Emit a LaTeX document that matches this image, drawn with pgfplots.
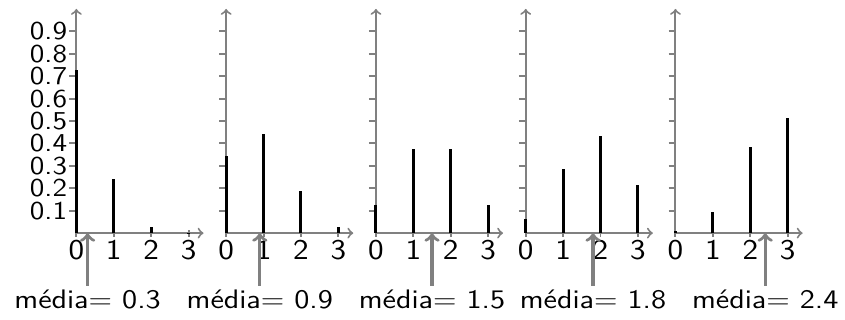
\documentclass[border=0pt]{standalone}
\usepackage{fontspec}
\setsansfont{Latin Modern Sans}[FakeStretch=1.15]
\usepackage{pgfplots}
\pgfplotsset{compat=1.18}
\pgfplotsset{
  panel/.style={
    x=18.85pt, y=113pt,
    xmin=0, xmax=3.4, ymin=0, ymax=1.0,
    axis lines=middle,
    axis line style={gray, line width=1pt, ->},
    xtick={0,1,2,3}, ytick={0.1,0.2,0.3,0.4,0.5,0.6,0.7,0.8,0.9},
    hide obscured x ticks=false, hide obscured y ticks=false,
    tick style={gray, line width=1pt},
    major tick length=3.5pt,
    xtick align=center, ytick align=outside,
    xticklabel style={font=\sffamily\fontsize{14.5}{14.5}\selectfont, black, inner sep=1.5pt},
    yticklabel style={font=\sffamily\fontsize{13}{13}\selectfont, black, inner sep=1pt},
    /pgf/number format/assume math mode=true,
    clip=false,
  },
  noy/.style={yticklabels={}},
}
\begin{document}
\begin{tikzpicture}
\tikzset{meanarrow/.style={gray, line width=1.7pt, ->}, meanlab/.style={font=\sffamily\fontsize{13.5}{13.5}\selectfont, black}}
% p = 0.1
\begin{axis}[panel, at={(0pt,0pt)}]
\addplot[ycomb, black, line width=1.5pt] coordinates {(0,0.729) (1,0.243) (2,0.027) (3,0.001)};
\addplot[meanarrow] coordinates {(0.3,-0.235) (0.3,0)};
\node[meanlab] at (axis cs:0.3,-0.296) {média= 0.3};
\end{axis}
% p = 0.3
\begin{axis}[panel, noy, at={(75.5pt,0pt)}]
\addplot[ycomb, black, line width=1.5pt] coordinates {(0,0.343) (1,0.441) (2,0.189) (3,0.027)};
\addplot[meanarrow] coordinates {(0.9,-0.235) (0.9,0)};
\node[meanlab] at (axis cs:0.9,-0.296) {média= 0.9};
\end{axis}
% p = 0.5
\begin{axis}[panel, noy, at={(151pt,0pt)}]
\addplot[ycomb, black, line width=1.5pt] coordinates {(0,0.125) (1,0.375) (2,0.375) (3,0.125)};
\addplot[meanarrow] coordinates {(1.5,-0.235) (1.5,0)};
\node[meanlab] at (axis cs:1.5,-0.296) {média= 1.5};
\end{axis}
% p = 0.6
\begin{axis}[panel, noy, at={(226.5pt,0pt)}]
\addplot[ycomb, black, line width=1.5pt] coordinates {(0,0.064) (1,0.288) (2,0.432) (3,0.216)};
\addplot[meanarrow] coordinates {(1.8,-0.235) (1.8,0)};
\node[meanlab] at (axis cs:1.8,-0.296) {média= 1.8};
\end{axis}
% p = 0.8
\begin{axis}[panel, noy, at={(302pt,0pt)}]
\addplot[ycomb, black, line width=1.5pt] coordinates {(0,0.008) (1,0.096) (2,0.384) (3,0.512)};
\addplot[meanarrow] coordinates {(2.4,-0.235) (2.4,0)};
\node[meanlab] at (axis cs:2.4,-0.296) {média= 2.4};
\end{axis}
\path (-38.5pt,-43.5pt) rectangle (384pt,117.5pt);
\end{tikzpicture}
\end{document}
